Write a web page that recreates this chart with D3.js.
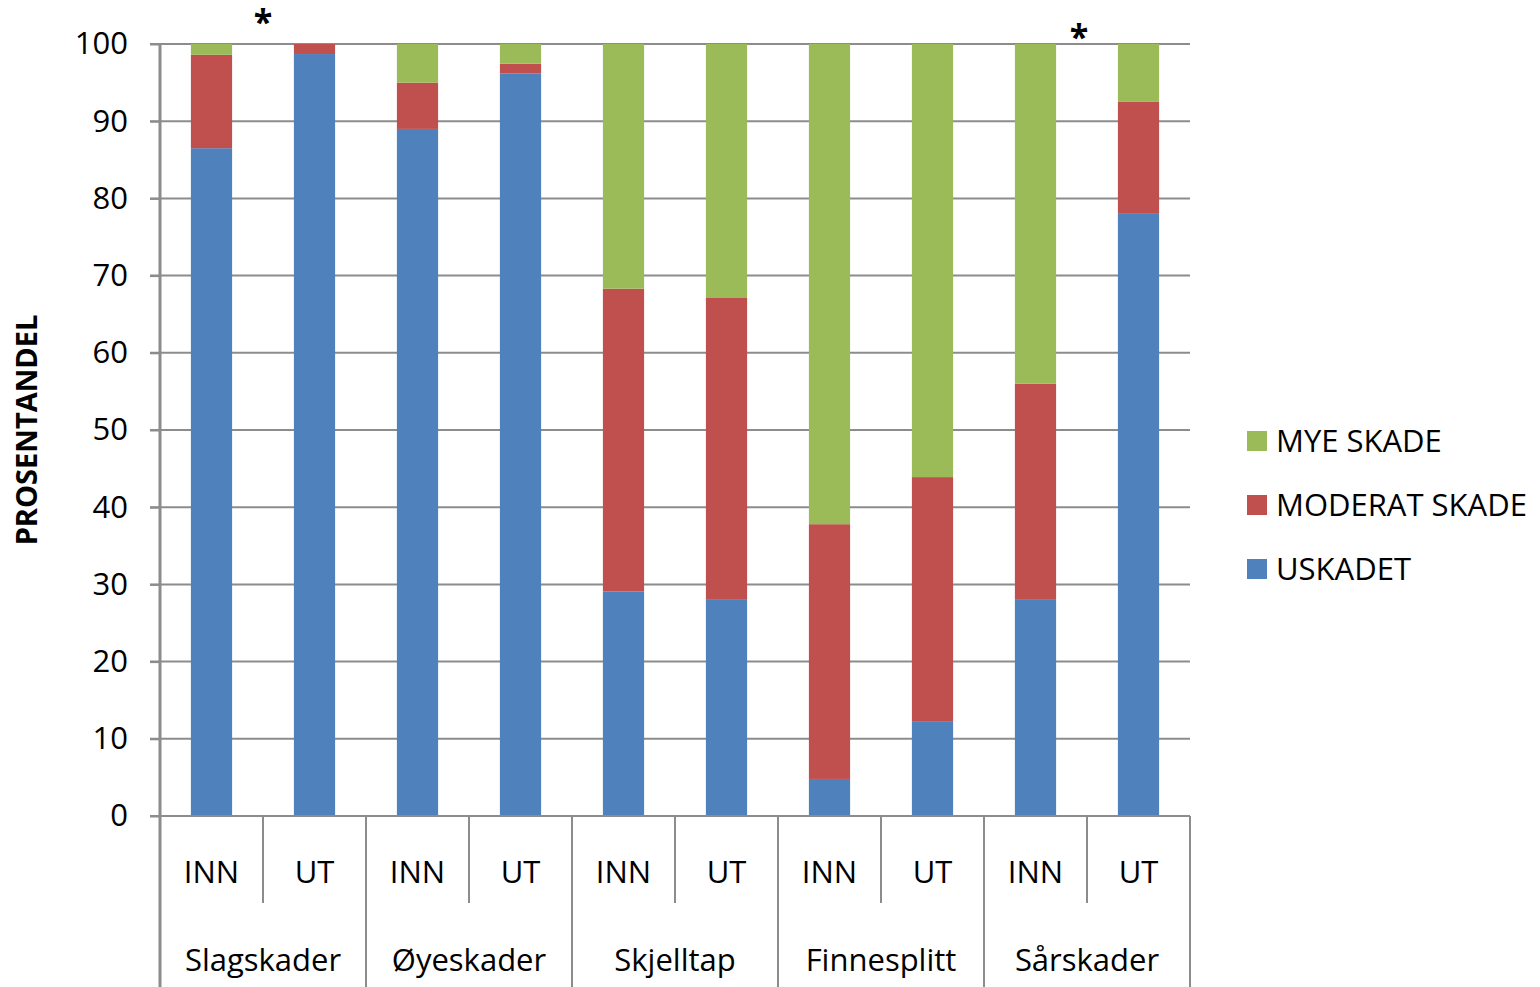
<!DOCTYPE html>
<html>
<head>
<meta charset="utf-8">
<script src="https://cdn.jsdelivr.net/npm/d3@7"></script>
<style>
  body { margin: 0; background: #fff; }
  text { font-family: "Open Sans", sans-serif; fill: #000; }
</style>
</head>
<body>
<script>
'use strict';

const groups = ['Slagskader', 'Øyeskader', 'Skjelltap', 'Finnesplitt', 'Sårskader'];
const subgroups = ['INN', 'UT'];
const seriesNames = ['USKADET', 'MODERAT SKADE', 'MYE SKADE'];
const uskadet = [86.5, 98.7, 89.0, 96.2, 29.1, 28.0, 4.8, 12.2, 28.0, 78.0];
const moderat = [12.1, 1.3, 6.0, 1.25, 39.2, 39.1, 33.0, 31.7, 28.0, 14.5];
const mye = [1.4, 0, 5.0, 2.55, 31.7, 32.9, 62.2, 56.1, 44.0, 7.5];
const yTicks = [0, 10, 20, 30, 40, 50, 60, 70, 80, 90, 100];
// asterisks: bar index they sit after, top of the glyph
const stars = [{after: 0, y: 10, dx: 0}, {after: 8, y: 25, dx: -8}];

const colors = {'USKADET': '#4F81BD', 'MODERAT SKADE': '#C0504D', 'MYE SKADE': '#9BBB59'};
const grid = '#8c8c8c';
const fs = '31px';

const W = 1540, H = 987;
const m = {left: 160, right: 1190, top: 44, bottom: 816};

const rows = [];
groups.forEach((g, gi) => subgroups.forEach((s, si) => {
    const i = gi * 2 + si;
    rows.push({key: g + '|' + s, group: g, sub: s,
        'USKADET': uskadet[i], 'MODERAT SKADE': moderat[i], 'MYE SKADE': mye[i]});
}));

const svg = d3.select('body').append('svg')
    .attr('width', W).attr('height', H);

const x = d3.scaleBand()
    .domain(rows.map(d => d.key))
    .range([m.left, m.right])
    .paddingInner(0.6)
    .paddingOuter(0.3);
const step = x.step();

const y = d3.scaleLinear().domain([0, 100]).range([m.bottom, m.top]);

// gridlines
svg.append('g')
    .selectAll('line')
    .data(yTicks.filter(t => t > 0))
    .enter().append('line')
    .attr('x1', m.left - 10).attr('x2', m.right)
    .attr('y1', d => y(d)).attr('y2', d => y(d))
    .attr('stroke', grid).attr('stroke-width', 2);

// bars
const stacked = d3.stack().keys(seriesNames)(rows);
svg.append('g')
    .selectAll('g')
    .data(stacked)
    .enter().append('g')
    .attr('fill', d => colors[d.key])
    .selectAll('rect')
    .data(d => d)
    .enter().append('rect')
    .attr('x', d => x(d.data.key))
    .attr('width', x.bandwidth())
    .attr('y', d => y(d[1]))
    .attr('height', d => y(d[0]) - y(d[1]));

// y axis
const yAxis = svg.append('g')
    .attr('transform', `translate(${m.left},0)`)
    .call(d3.axisLeft(y).tickValues(yTicks).tickSize(10).tickPadding(22));
yAxis.select('.domain').remove();
yAxis.selectAll('line').attr('stroke', grid).attr('stroke-width', 2);
yAxis.selectAll('text')
    .style('font-size', fs)
    .style('font-family', '"Open Sans", sans-serif');

svg.append('line')
    .attr('x1', m.left).attr('x2', m.left)
    .attr('y1', m.top).attr('y2', H)
    .attr('stroke', grid).attr('stroke-width', 3);

// x axis line
svg.append('line')
    .attr('x1', m.left - 10).attr('x2', m.right)
    .attr('y1', m.bottom).attr('y2', m.bottom)
    .attr('stroke', grid).attr('stroke-width', 2);

// category separators
const bounds = d3.range(rows.length + 1).map(i => m.left + i * step);
svg.append('g')
    .selectAll('line')
    .data(bounds.slice(1))
    .enter().append('line')
    .attr('x1', d => d).attr('x2', d => d)
    .attr('y1', m.bottom)
    .attr('y2', (d, i) => (i + 1) % 2 === 0 ? H : 903)
    .attr('stroke', grid).attr('stroke-width', 2);

// sub labels
svg.append('g')
    .selectAll('text')
    .data(rows)
    .enter().append('text')
    .attr('x', d => x(d.key) + x.bandwidth() / 2)
    .attr('y', 872)
    .attr('dy', '0.35em')
    .attr('text-anchor', 'middle')
    .style('font-size', fs)
    .text(d => d.sub);

// group labels
svg.append('g')
    .selectAll('text')
    .data(groups)
    .enter().append('text')
    .attr('x', (d, i) => m.left + (i * 2 + 1) * step)
    .attr('y', 960)
    .attr('dy', '0.35em')
    .attr('text-anchor', 'middle')
    .style('font-size', fs)
    .text(d => d);

// y title
svg.append('text')
    .attr('transform', 'translate(27,430) rotate(-90)')
    .attr('dy', '0.35em')
    .attr('text-anchor', 'middle')
    .style('font-size', '29px')
    .style('font-weight', 'bold')
    .text('PROSENTANDEL');

// asterisks
svg.append('g')
    .selectAll('text')
    .data(stars)
    .enter().append('text')
    .attr('x', d => m.left + (d.after + 1) * step + d.dx)
    .attr('y', d => d.y)
    .attr('dy', '0.7em')
    .attr('text-anchor', 'middle')
    .style('font-size', '34px')
    .style('font-weight', 'bold')
    .text('*');

// legend
const legendItems = seriesNames.slice().reverse();
const legend = svg.append('g')
    .selectAll('g')
    .data(legendItems)
    .enter().append('g')
    .attr('transform', (d, i) => `translate(1247,${441 + i * 64})`);
legend.append('rect')
    .attr('x', 0).attr('y', -10)
    .attr('width', 20).attr('height', 20)
    .attr('fill', d => colors[d]);
legend.append('text')
    .attr('x', 29).attr('y', 0)
    .attr('dy', '0.36em')
    .style('font-size', fs)
    .text(d => d);
</script>
</body>
</html>
